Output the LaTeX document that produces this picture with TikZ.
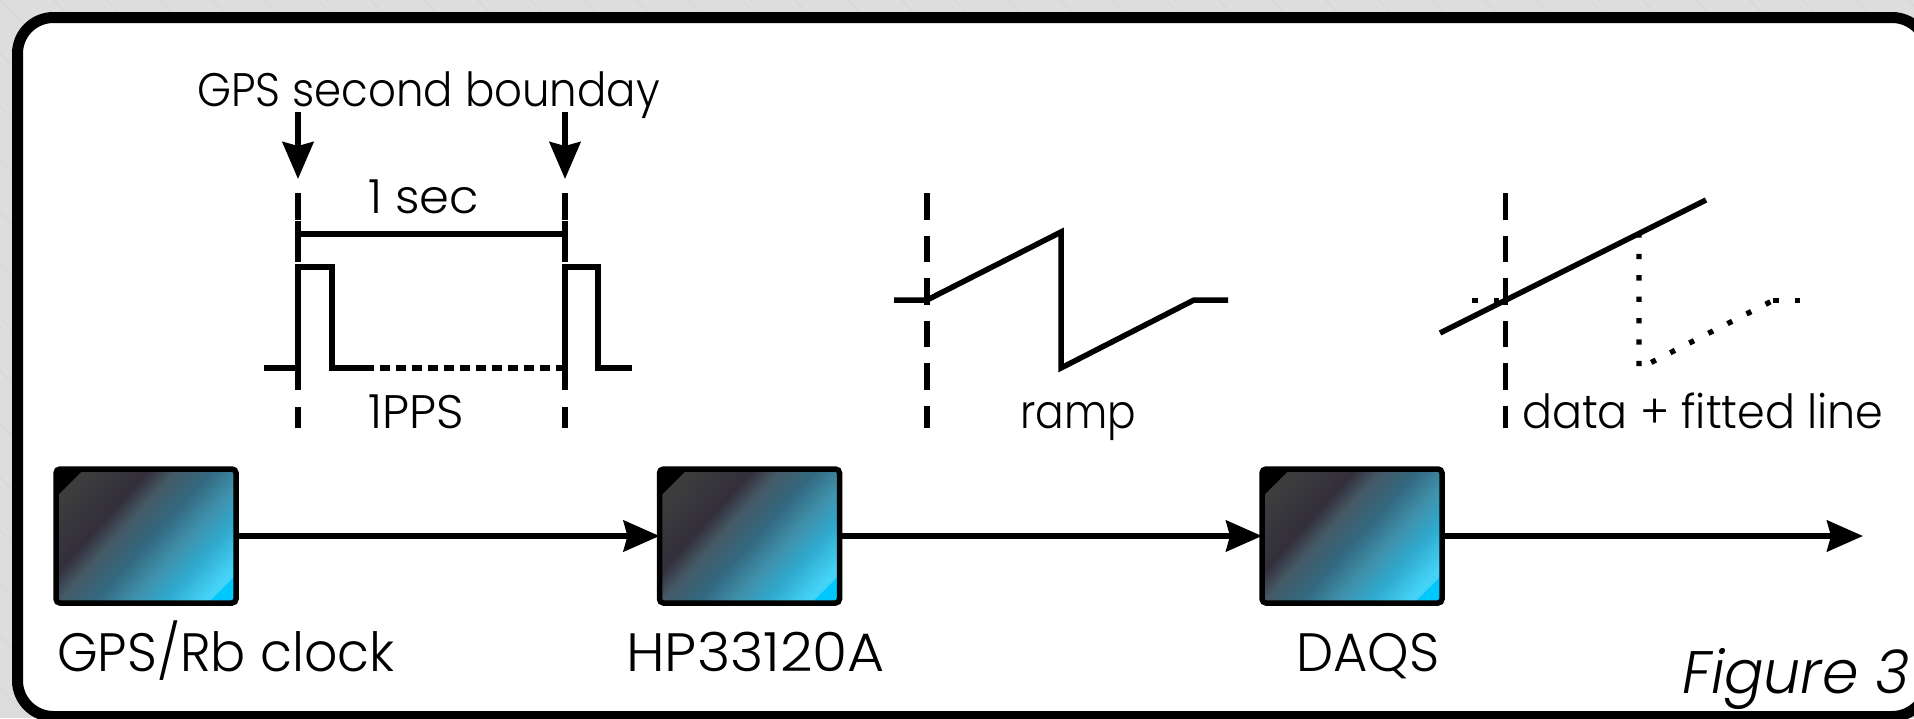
\documentclass[tikz,border=0pt]{standalone}
\usepackage{graphicx}
\usepackage{fontspec}
\setmainfont{Poppins}[UprightFont=* Light,ItalicFont=* Light Italic]
\usetikzlibrary{arrows.meta}
\definecolor{bgcol}{HTML}{DDDDDD}
\definecolor{bgline}{HTML}{D5D5D5}
\definecolor{cornercol}{HTML}{00C8FF}
\pgfdeclarehorizontalshading{boxgrad}{300bp}{
  rgb(0bp)=(.24,.24,.24); rgb(62bp)=(.24,.24,.24);
  rgb(108bp)=(.2,.184,.23); rgb(128bp)=(.27,.35,.4);
  rgb(155bp)=(.2,.41,.5); rgb(183bp)=(.25,.573,.678);
  rgb(205bp)=(.184,.659,.8); rgb(235bp)=(.267,.824,.969);
  rgb(300bp)=(.267,.824,.969)}
\newcommand{\sx}[2]{\scalebox{#1}[1]{#2}}
\tikzset{
  x=1pt,y=-1pt,
  wave/.style={line width=5.5pt,line join=miter,draw=black},
  stem/.style={line width=5.5pt,-{Stealth[length=37pt,width=31pt,inset=4pt]}},
  flow/.style={line width=5.5pt,-{Stealth[length=36pt,width=31pt,inset=4pt]}},
  guide/.style={line width=5.5pt,dash pattern=on 26.5pt off 16pt},
  dots/.style={line width=5.3pt,dash pattern=on 5.3pt off 16.1pt},
  unit/.style={draw=black,line width=5.5pt,rounded corners=4pt,minimum width=180pt,minimum height=134pt,inner sep=0pt,outer sep=0pt},
  lab/.style={inner sep=0pt,anchor=base west,font=\fontsize{47}{47}\selectfont},
  biglab/.style={inner sep=0pt,anchor=base west,font=\fontsize{54}{54}\selectfont},
}
\newcommand{\gradbox}[2]{%
  \begin{scope}
    \clip (#2-90,536-67) rectangle (#2+90,536+67);
    \node[inner sep=0pt,rotate=-42] (g#1) at (#2,536) {\pgfuseshading{boxgrad}};
    \fill[black] (#2-90,536-67) -- ++(28,0) -- ++(-28,28) -- cycle;
    \fill[cornercol] (#2+90,536+67) -- ++(-28,0) -- ++(28,-28) -- cycle;
  \end{scope}
  \node[unit] (#1) at (#2,536) {};
}
\begin{document}
\begin{tikzpicture}
\useasboundingbox (0,0) rectangle (1914,718);
\fill[bgcol] (0,0) rectangle (1914,718);
\begin{scope}
  \clip (0,0) rectangle (1914,718);
  \foreach \k in {-742,-689,...,1914} \draw[bgline,line width=1pt] (\k,0) -- (\k+718,718);
  \filldraw[fill=white,draw=black,line width=11pt,rounded corners=36pt] (17.5,17.5) rectangle (1928,716.5);
\end{scope}

% top labels
\node[lab] (gpslab) at (197,106) {\sx{.925}{GPS second bounday}};
\node[lab] (seclab) at (368,213) {\sx{1.02}{1 sec}};
\node[lab] (ppslab) at (368,428) {\sx{1.02}{1PPS}};
\node[lab] (ramplab) at (1020,428) {\sx{.9}{ramp}};
\node[lab] (datalab) at (1522,428) {\sx{.945}{data + fitted line}};

% 1PPS plot
\coordinate (s1) at (298,112); \coordinate (e1) at (298,179);
\coordinate (s2) at (565,112); \coordinate (e2) at (565,179);
\draw[stem] (s1) -- (e1);
\draw[stem] (s2) -- (e2);
\draw[line width=5.5pt] (298,193) -- (298,219.5) (298,220.5) -- (298,262) (298,407) -- (298,428);
\draw[line width=5.5pt] (565,193) -- (565,219.5) (565,220.5) -- (565,262) (565,407) -- (565,428);
\draw[wave] (298,368) -- (298,390);
\draw[wave] (565,368) -- (565,390);
\draw[line width=5.5pt] (298,234) -- (565,234);
\draw[wave] (264,368) -- (298,368) -- (298,267) -- (332,267) -- (332,368) -- (364,368);
\draw[line width=5.5pt,dash pattern=on 10pt off 6pt] (364,368) -- (565,368);
\draw[wave] (565,368) -- (565,267) -- (598,267) -- (598,368) -- (632,368);

% ramp plot
\draw[guide] (927,193) -- (927,428);
\draw[wave] (894,300) -- (927,300) -- (1061,232) -- (1061,368) -- (1194,300) -- (1228,300);

% data plot
\draw[guide] (1505.5,193) -- (1505.5,428);
\draw[line width=5.5pt] (1440,333) -- (1706,200);
\draw[dots] (1472.4,300.7) -- (1505,300.7);
\draw[dots] (1639,232.4) -- (1639,368.6) -- (1771,301.5);
\draw[dots] (1773.4,300.7) -- (1800,300.7);

% chain
\gradbox{clock}{146}
\gradbox{hp}{749.5}
\gradbox{daqs}{1352}
\node[biglab] (clocklab) at (57,671) {\sx{.965}{GPS/Rb clock}};
\node[biglab] (hplab) at (626,671) {\sx{1.055}{HP33120A}};
\node[biglab] (daqslab) at (1296,671) {\sx{.975}{DAQS}};
\coordinate (out) at (1863,536);
\draw[flow] (clock) -- (hp);
\draw[flow] (hp) -- (daqs);
\draw[flow] (daqs) -- (out);
\node[inner sep=0pt,anchor=base west,font=\fontsize{60}{60}\selectfont\itshape] (figlab) at (1682,693) {\sx{.975}{Figure 3}};
\end{tikzpicture}
\end{document}
